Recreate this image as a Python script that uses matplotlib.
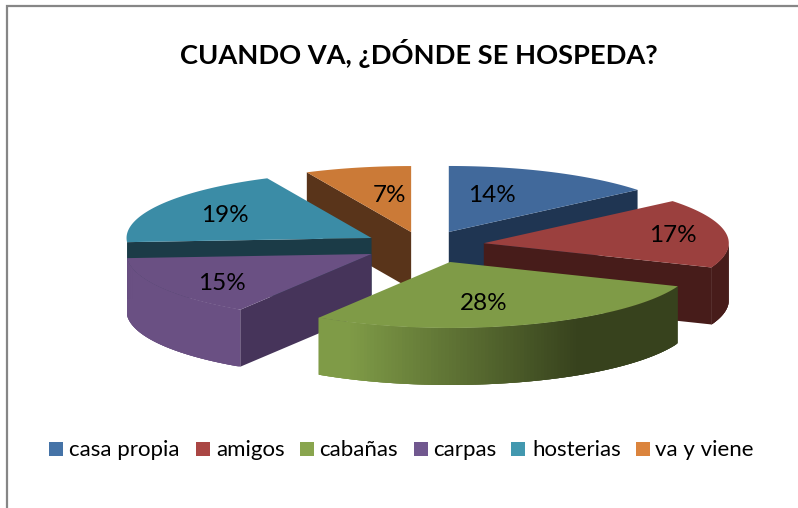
import numpy as np
import matplotlib
matplotlib.use('Agg')
import matplotlib.pyplot as plt
from matplotlib.colors import to_rgb
from matplotlib.patches import Rectangle

plt.rcParams['font.family'] = ['Lato', 'DejaVu Sans']

categorias = ['casa propia', 'amigos', 'cabañas', 'carpas', 'hosterias', 'va y viene']
valores = [14, 17, 28, 15, 19, 7]

# colours and layout, all in pixels of the 798x508 picture
col_top = ['#41699B', '#9B403E', '#7F9B47', '#6A5083', '#3B8CA6', '#CB7A37']
col_side = ['#1F3552', '#471C1A', '#37421D', '#46345A', '#1B3B47', '#59341A']
col_legend = ['#4573A7', '#AA4644', '#89A54E', '#71588F', '#4298AF', '#DB843D']
explode_x = [50, 57, 73, 65, 65, 75]
explode_y = [15.5, 18, 16.8, 15.7, 15.7, 14.3]
draw_order = [5, 0, 4, 1, 3, 2]
label_pos = [(492, 196), (673, 235), (484, 304), (222, 284), (225, 216), (389, 196)]
legend_x = [49, 196, 300, 414, 511, 636]
legend_txt = [69, 216, 319, 433, 532, 655]
cx, cy = 427.5, 246
rx, ry = 245, 66
depth = 57

fig = plt.figure(figsize=(7.98, 5.08), dpi=100)
ax = fig.add_axes([0, 0, 1, 1])
ax.set_xlim(0, 798)
ax.set_ylim(508, 0)
ax.axis('off')

# chart frame, only left and top are in the crop
ax.plot([7, 7, 798], [508, 6, 6], color='#868686', lw=1.6, solid_joinstyle='miter')

ax.text(418.5, 54, 'CUANDO VA, ¿DÓNDE SE HOSPEDA?', fontsize=19.6, fontweight='bold',
        ha='center', va='center', color='black')

total = sum(valores)
ends = np.cumsum(valores) / total * 2 * np.pi
starts = ends - np.array(valores) / total * 2 * np.pi


def rim(x0, y0, t):
    return x0 + rx * np.sin(t), y0 - ry * np.cos(t)


def mix(c1, c2, f):
    a, b = np.array(to_rgb(c1)), np.array(to_rgb(c2))
    return tuple(a + (b - a) * f)


for i in draw_order:
    a, b = starts[i], ends[i]
    m = (a + b) / 2
    x0 = cx + explode_x[i] * np.sin(m)
    y0 = cy - explode_y[i] * np.cos(m)
    t = np.linspace(a, b, 120)
    xs, ys = rim(x0, y0, t)

    # cut faces
    if np.sin(b) > 1e-6:
        ax.fill([x0, xs[-1], xs[-1], x0], [y0, ys[-1], ys[-1] + depth, y0 + depth],
                color=col_side[i], lw=0)
    if np.sin(a) < -1e-6:
        ax.fill([x0, xs[0], xs[0], x0], [y0, ys[0], ys[0] + depth, y0 + depth],
                color=col_side[i], lw=0)

    # outer wall, front part only. strips overlap so no seams show
    # teal wall is hidden by the purple slice
    for k in range(len(t) - 1):
        if i != 4 and np.cos((t[k] + t[k + 1]) / 2) < 0:
            if i == 2:
                f = np.clip((xs[k] - 350) / 230, 0, 1)
                c = mix('#7F9B47', col_side[i], f)
            elif i == 3:
                c = col_top[i]
            else:
                c = col_side[i]
            k2 = min(k + 3, len(t) - 1)
            wx = np.r_[xs[k:k2 + 1], xs[k:k2 + 1][::-1]]
            wy = np.r_[ys[k:k2 + 1], ys[k:k2 + 1][::-1] + depth]
            ax.fill(wx, wy, color=c, lw=0)

    # top
    ax.fill(np.r_[x0, xs], np.r_[y0, ys], color=col_top[i], lw=0)

for i, txt in enumerate(valores):
    ax.text(label_pos[i][0], label_pos[i][1], f'{txt}%', fontsize=17.5, color='black',
            ha='center', va='center')

for i, nombre in enumerate(categorias):
    ax.add_patch(Rectangle((legend_x[i], 442), 14, 14, color=col_legend[i], lw=0))
    ax.text(legend_txt[i], 450, nombre, fontsize=16, color='black', ha='left', va='center')

fig.savefig('out.png', dpi=100, facecolor='white')
